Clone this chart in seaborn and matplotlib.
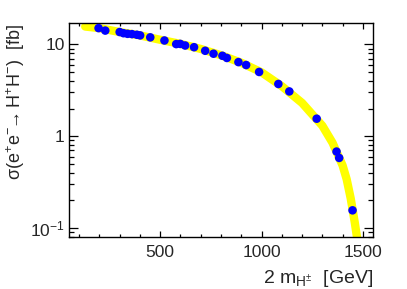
import numpy as np
import pandas as pd
import matplotlib
matplotlib.use("Agg")
import matplotlib.pyplot as plt
import seaborn as sns
from matplotlib.ticker import FixedLocator, MultipleLocator, LogLocator, NullFormatter

# yellow band (theory curve)
band_x = [130, 200, 300, 400, 500, 600, 700, 800, 900, 1000, 1100, 1200,
          1300, 1350, 1400, 1420, 1440, 1460, 1470, 1478]
band_y = [15.6, 15.0, 13.6, 12.5, 11.2, 10.1, 8.9, 7.6, 6.3, 4.95, 3.5, 2.3,
          1.3, 0.85, 0.48, 0.34, 0.21, 0.115, 0.082, 0.065]

# blue points: 2 m_H+- [GeV] vs cross section [fb]
mass = [196, 229, 300, 319, 339, 361, 385, 401, 451, 521, 579, 599, 623, 667,
        722, 763, 807, 829, 886, 924, 988, 1083, 1137, 1272, 1370, 1383, 1449]
xsec = [15.0, 14.1, 13.6, 13.2, 13.0, 12.9, 12.7, 12.5, 11.9, 11.0, 10.05, 10.1,
        9.7, 9.3, 8.5, 7.9, 7.5, 7.1, 6.4, 5.95, 5.0, 3.7, 3.07, 1.55, 0.68,
        0.58, 0.156]

x_ticks = [500, 1000, 1500]
y_ticks = [0.1, 1, 10]
y_ticklabels = ['10$^{-1}$', '1', '10']

sns.set_style("ticks")
plt.rcParams['font.family'] = ['Liberation Sans', 'DejaVu Sans']
plt.rcParams['mathtext.fontset'] = 'custom'
plt.rcParams['mathtext.rm'] = 'Liberation Sans'
plt.rcParams['mathtext.it'] = 'Liberation Sans'
plt.rcParams['mathtext.bf'] = 'Liberation Sans:bold'

band = pd.DataFrame({'m': band_x, 's': band_y})
pts = pd.DataFrame({'m': mass, 's': xsec})

fig = plt.figure(figsize=(4.07, 2.89), dpi=100)
ax = fig.add_axes([0.1695, 0.18, 0.747, 0.74])

sns.lineplot(data=band, x='m', y='s', ax=ax, color='#ffff00', linewidth=6,
             solid_capstyle='round', zorder=2)
sns.scatterplot(data=pts, x='m', y='s', ax=ax, color='#0000ff', s=38,
                edgecolor='none', zorder=3)

ax.set_yscale('log')
ax.set_xlim(50, 1550)
ax.set_ylim(0.08, 17)

ax.xaxis.set_major_locator(FixedLocator(x_ticks))
ax.xaxis.set_minor_locator(MultipleLocator(100))
ax.set_xticklabels([str(v) for v in x_ticks])
ax.yaxis.set_major_locator(FixedLocator(y_ticks))
ax.set_yticklabels(y_ticklabels)
ax.yaxis.set_minor_locator(LogLocator(base=10, subs=np.arange(2, 10)))
ax.yaxis.set_minor_formatter(NullFormatter())

ax.tick_params(which='both', direction='in', top=True, right=True,
               labelsize=12.5, color='black', width=0.9)
ax.tick_params(axis='x', which='major', length=4.5, pad=6)
ax.tick_params(axis='x', which='minor', length=2.3)
ax.tick_params(axis='y', which='major', length=6.5, pad=3)
ax.tick_params(axis='y', which='minor', length=3.3)
for sp in ax.spines.values():
    sp.set_linewidth(1.0)
    sp.set_color('black')

ax.set_xlabel(r'2 m$_{\mathrm{H^{\pm}}}$  [GeV]', fontsize=14, loc='right')
ax.xaxis.set_label_coords(1.0, -0.145)
ax.set_ylabel(r'$\mathrm{\sigma(e^{+}e^{-}\!\!\rightarrow H^{+}H^{-})}$  [fb]',
              fontsize=13, loc='top')
ax.yaxis.set_label_coords(-0.138, 0.995)

fig.savefig('out.png', dpi=100)
